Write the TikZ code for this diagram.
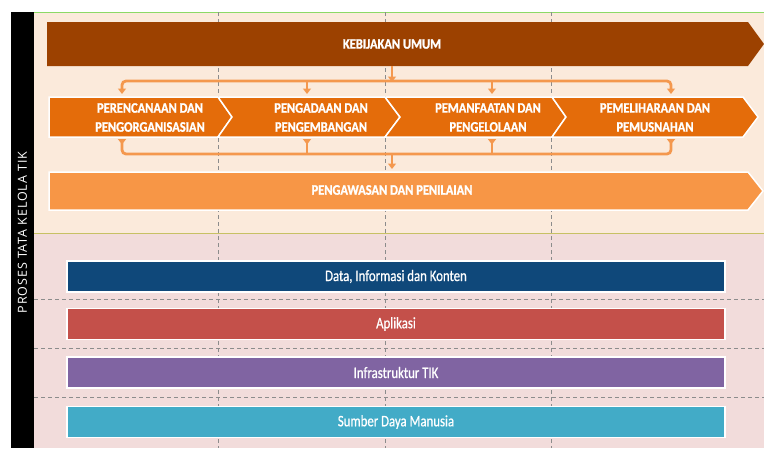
\documentclass[tikz,border=0pt]{standalone}
\usepackage{fontspec}
\usepackage{tikz}
\usetikzlibrary{arrows.meta}
\newfontfamily\capfont[FakeStretch=0.86,FakeBold=1.2]{Carlito Bold}
\newfontfamily\barfont[FakeStretch=0.8,FakeBold=0.7]{Carlito}
\newfontfamily\sidefont[LetterSpace=7]{Open Sans}
\definecolor{brownk}{RGB}{156,65,0}
\definecolor{orangep}{RGB}{228,108,10}
\definecolor{orangew}{RGB}{247,150,70}
\definecolor{orangec}{RGB}{244,152,78}
\definecolor{peach}{RGB}{251,234,219}
\definecolor{pinkbg}{RGB}{242,220,219}
\definecolor{datablue}{RGB}{15,72,122}
\definecolor{apred}{RGB}{196,80,74}
\definecolor{infpurple}{RGB}{128,100,162}
\definecolor{sdmcyan}{RGB}{66,171,199}
\definecolor{gridgray}{RGB}{140,140,140}

\begin{document}
\begin{tikzpicture}[x=1pt, y=-1pt,
	grid/.style={gridgray, dash pattern=on 4pt off 3pt, line width=0.6pt},
	phase/.style={draw=white, line width=1.5pt},
	ptext/.style={text=white, font=\capfont\fontsize{14.5}{19}\selectfont, align=center},
	bar/.style={draw=white, line width=1.5pt, minimum width=658pt, minimum height=31pt, text=white, font=\barfont\fontsize{16}{18}\selectfont},
	conn/.style={orangec, line width=2.8pt, rounded corners=4pt},
	ctip/.tip={Triangle[width=8pt,length=5.5pt]},
	rtip/.tip={Triangle[width=8pt,length=5.5pt,reversed]}]
	\useasboundingbox (0,0) rectangle (764,448);
	\fill[white] (0,0) rectangle (764,448);
	\fill[black] (11,12) rectangle (34,448);
	\fill[peach] (34,12) rectangle (764,233);
	\fill[pinkbg] (34,233) rectangle (764,448);
	\draw[green!50!olive!60, line width=0.8pt] (34,12) -- (764,12);
	\draw[olive!50, line width=1pt] (34,233) -- (764,233);

	\foreach \x in {218,385,551}
		\draw[grid] (\x,12) -- (\x,448);
	\foreach \y in {299,348,397}
		\draw[grid] (34,\y) -- (764,\y);

	\node[rotate=90, text=white, font=\sidefont\fontsize{12.5}{14}\selectfont] (side) at (22.5,232.5) {PROSES TATA KELOLA TIK};

	\fill[brownk] (47,22) -- (748,22) -- (764,44) -- (748,66) -- (47,66) -- cycle;
	\node[ptext] (k) at (392,44) {KEBIJAKAN UMUM};

	\filldraw[orangep, phase] (49,97) -- (218,97) -- (232,117) -- (218,137) -- (49,137) -- cycle;
	\filldraw[orangep, phase] (218,97) -- (385,97) -- (400,117) -- (385,137) -- (218,137) -- (232,117) -- cycle;
	\filldraw[orangep, phase] (385,97) -- (552,97) -- (566,117) -- (552,137) -- (385,137) -- (400,117) -- cycle;
	\filldraw[orangep, phase] (552,97) -- (743,97) -- (758,117) -- (743,137) -- (552,137) -- (566,117) -- cycle;
	\node[ptext] (p1) at (150,117.5) {PERENCANAAN DAN\\PENGORGANISASIAN};
	\node[ptext] (p2) at (321,117.5) {PENGADAAN DAN\\PENGEMBANGAN};
	\node[ptext] (p3) at (488,117.5) {PEMANFAATAN DAN\\PENGELOLAAN};
	\node[ptext] (p4) at (655,117.5) {PEMELIHARAAN DAN\\PEMUSNAHAN};

	\filldraw[orangew, phase] (49,172) -- (748,172) -- (763,191) -- (748,210) -- (49,210) -- cycle;
	\node[ptext] (w) at (392,190) {PENGAWASAN DAN PENILAIAN};

	\coordinate (ks) at (392,66);
	\coordinate (kb) at (392,82);
	\coordinate (wb) at (392,154);
	\coordinate (wt) at (392,169);
	\foreach \x [count=\i] in {122,307,492,671} {
		\coordinate (u\i) at (\x,81);
		\coordinate (ut\i) at (\x,94);
		\coordinate (l\i) at (\x,139);
		\coordinate (b\i) at (\x,154);
	}
	\draw[conn, {ctip}-{ctip}] (ut1) -- (u1) -- (u4) -- (ut4);
	\draw[conn, {rtip}-{rtip}] (l1) -- (b1) -- (b4) -- (l4);
	\draw[conn, -{ctip}] (ks) -- (kb);
	\foreach \i in {2,3} {
		\draw[conn, -{ctip}] (u\i) -- (ut\i);
		\draw[conn, {rtip}-] (l\i) -- (b\i);
	}
	\draw[conn, -{ctip}] (wb) -- (wt);

	\node[bar, fill=datablue] (d1) at (396,276.5) {Data, Informasi dan Konten};
	\node[bar, fill=apred] (d2) at (396,324) {Aplikasi};
	\node[bar, fill=infpurple] (d3) at (396,372.5) {Infrastruktur TIK};
	\node[bar, fill=sdmcyan] (d4) at (396,422) {Sumber Daya Manusia};
\end{tikzpicture}
\end{document}
